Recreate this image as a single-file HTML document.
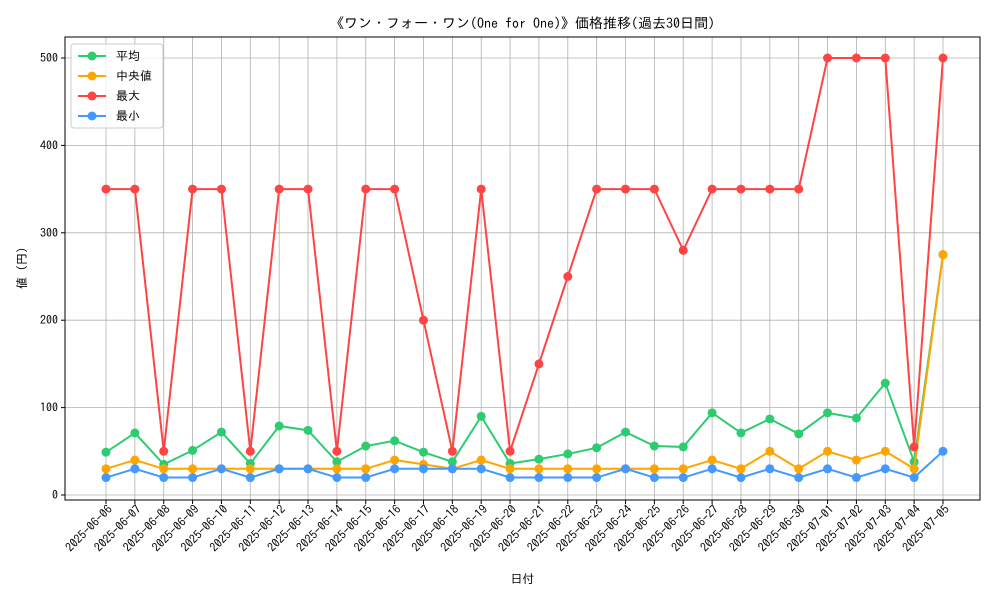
<!DOCTYPE html>
<html><head><meta charset="utf-8"><style>
body{margin:0;background:#fff;}
svg text{font-family:"IPAGothic","Noto Sans CJK JP",monospace;fill:#000;}
</style></head><body>
<svg id="chart" width="1000" height="600" xmlns="http://www.w3.org/2000/svg">
<g id="grid"></g><g id="series"></g><g id="axes"></g>
</svg>
<script>
const dates=["2025-06-06","2025-06-07","2025-06-08","2025-06-09","2025-06-10","2025-06-11","2025-06-12","2025-06-13","2025-06-14","2025-06-15","2025-06-16","2025-06-17","2025-06-18","2025-06-19","2025-06-20","2025-06-21","2025-06-22","2025-06-23","2025-06-24","2025-06-25","2025-06-26","2025-06-27","2025-06-28","2025-06-29","2025-06-30","2025-07-01","2025-07-02","2025-07-03","2025-07-04","2025-07-05"];
const avgVals=[49,71,35,51,72,36,79,74,38,56,62,49,38,90,36,41,47,54,72,56,55,94,71,87,70,94,88,128,38,275];
const medVals=[30,40,30,30,30,30,30,30,30,30,40,35,30,40,30,30,30,30,30,30,30,40,30,50,30,50,40,50,30,275];
const maxVals=[350,350,50,350,350,50,350,350,50,350,350,200,50,350,50,150,250,350,350,350,280,350,350,350,350,500,500,500,55,500];
const minVals=[20,30,20,20,30,20,30,30,20,20,30,30,30,30,20,20,20,20,30,20,20,30,20,30,20,30,20,30,20,50];
const yTicks=[0,100,200,300,400,500];
const seriesNames=["平均","中央値","最大","最小"];
const colors=["#2ecc71","#ffa500","#ff4444","#4499ff"];

const L=65,R=980,T=37,B=500;
const x=i=>106+i*(943-106)/(dates.length-1);
const y=v=>495-v*(495-58)/500;
const NS="http://www.w3.org/2000/svg";
function mk(tag,attrs,parent){const e=document.createElementNS(NS,tag);for(const k in attrs)e.setAttribute(k,attrs[k]);parent.appendChild(e);return e;}
const grid=document.getElementById('grid'),ser=document.getElementById('series'),ax=document.getElementById('axes');

dates.forEach((d,i)=>{
 const gl=mk('line',{x1:x(i),x2:x(i),y1:T,y2:B,stroke:'#b0b0b0','stroke-width':0.8},grid);
 
 
 const tk=mk('line',{x1:x(i),x2:x(i),y1:B,y2:B+4,stroke:'#000'},ax);
 
 
 const t=mk('text',{x:x(i)+7,y:B+10,'font-size':12,'text-anchor':'end',transform:`rotate(-45 ${x(i)+7} ${B+10})`},ax);
 t.textContent=d;
 
 
});
yTicks.forEach(v=>{
 const gl=mk('line',{x1:L,x2:R,y1:y(v),y2:y(v),stroke:'#b0b0b0','stroke-width':0.8},grid);
 
 
 const tk=mk('line',{x1:L-4,x2:L,y1:y(v),y2:y(v),stroke:'#000'},ax);
 
 
 const t=mk('text',{x:L-7,y:y(v)+4,'font-size':12,'text-anchor':'end'},ax);
 t.textContent=v;
 
 
});
const frame=mk('rect',{x:L,y:T,width:R-L,height:B-T,fill:'none',stroke:'#000','stroke-width':1},ax);



[avgVals,medVals,maxVals,minVals].forEach((vals,s)=>{
 const g=mk('g',{},ser);
 
 
 const pl=mk('polyline',{points:vals.map((v,i)=>x(i)+','+y(v)).join(' '),fill:'none',stroke:colors[s],'stroke-width':2},g);
 
 
 vals.forEach((v,i)=>{
  const c=mk('circle',{cx:x(i),cy:y(v),r:4.5,fill:colors[s]},g);
  
  
 });
});

const title=mk('text',{x:(L+R)/2,y:28,'font-size':14,'text-anchor':'middle'},ax);
title.textContent="《ワン・フォー・ワン(One for One)》価格推移(過去30日間)";


const xt=mk('text',{x:(L+R)/2,y:583,'font-size':12,'text-anchor':'middle'},ax);
xt.textContent="日付";


const yt=mk('text',{x:26,y:268,'font-size':12,'text-anchor':'middle',transform:'rotate(-90 26 268)'},ax);
yt.textContent="値 (円)";



const lg=mk('g',{},ax);


mk('rect',{x:71,y:44,width:92,height:84,fill:'#fff','fill-opacity':0.8,stroke:'#ccc',rx:3},lg);
seriesNames.forEach((n,s)=>{
 const yy=56+s*20;
 const e=mk('g',{},lg);
 
 
 mk('line',{x1:78,x2:106,y1:yy,y2:yy,stroke:colors[s],'stroke-width':2},e);
 mk('circle',{cx:92,cy:yy,r:4.5,fill:colors[s]},e);
 const t=mk('text',{x:116,y:yy+4,'font-size':12},e);
 t.textContent=n;
});
</script>
</body></html>
